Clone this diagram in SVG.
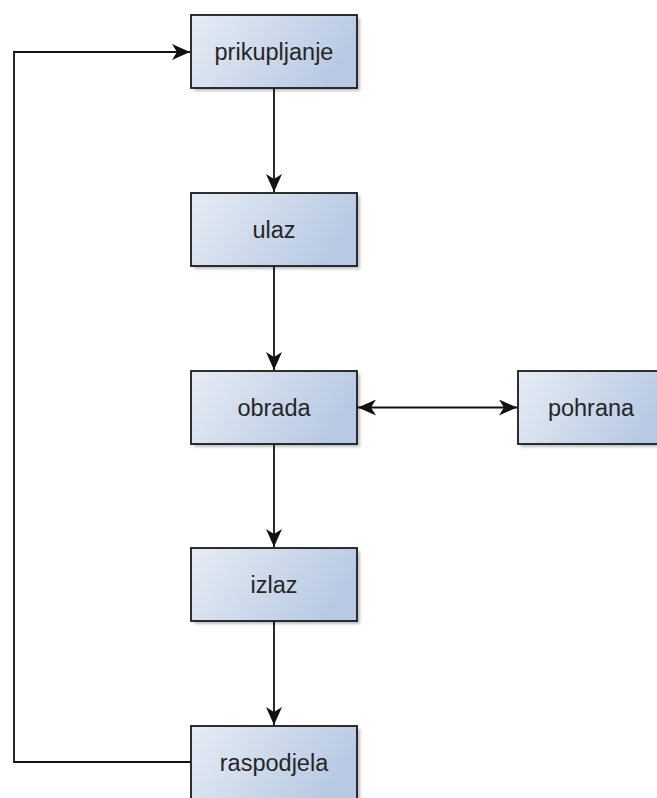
<svg xmlns="http://www.w3.org/2000/svg" width="657" height="798" viewBox="0 0 657 798">
<style>
.box{fill:url(#g);stroke:#1a1a1a;stroke-width:1.8}
.sh{fill:#000;opacity:0.25;filter:url(#blur)}
.lbl{font-family:"Liberation Sans",Arial,sans-serif;font-size:23.5px;fill:#262626;text-anchor:middle;dominant-baseline:central}
.edge{fill:none;stroke:#111;stroke-width:1.8}
</style>
<defs>
<linearGradient id="g" x1="0" y1="0" x2="1" y2="0.3">
<stop offset="0" stop-color="#e6ecf5"/>
<stop offset="1" stop-color="#b8cae3"/>
</linearGradient>
<filter id="blur" x="-10%" y="-10%" width="120%" height="130%"><feGaussianBlur stdDeviation="1.5"/></filter>
<marker id="arr" viewBox="0 0 18 16" refX="18" refY="8" markerWidth="18" markerHeight="16" markerUnits="userSpaceOnUse" orient="auto-start-reverse">
<path d="M0,0 L18,8 L0,16 L5,8 Z" fill="#111"/>
</marker>
</defs>
<g id="connectors">
<path class="edge" d="M274,88 V192" marker-end="url(#arr)"/>
<path class="edge" d="M274,266 V370" marker-end="url(#arr)"/>
<path class="edge" d="M274,444 V547" marker-end="url(#arr)"/>
<path class="edge" d="M274,622 V725" marker-end="url(#arr)"/>
<path class="edge" d="M358,407.5 H517" marker-start="url(#arr)" marker-end="url(#arr)"/>
<path class="edge" d="M191,762 H14 V52 H190" marker-end="url(#arr)"/>
</g>
<g id="prikupljanje">
<rect class="sh" x="194" y="18" width="166" height="73"/>
<rect class="box" x="191" y="15" width="166" height="73"/>
<text class="lbl" x="274" y="52">prikupljanje</text>
</g>
<g id="ulaz">
<rect class="sh" x="194" y="196" width="166" height="73"/>
<rect class="box" x="191" y="193" width="166" height="73"/>
<text class="lbl" x="274" y="230">ulaz</text>
</g>
<g id="obrada">
<rect class="sh" x="194" y="374" width="166" height="73"/>
<rect class="box" x="191" y="371" width="166" height="73"/>
<text class="lbl" x="274" y="408">obrada</text>
</g>
<g id="pohrana">
<rect class="sh" x="521" y="374" width="148" height="73"/>
<rect class="box" x="518" y="371" width="148" height="73"/>
<text class="lbl" x="591" y="408">pohrana</text>
</g>
<g id="izlaz">
<rect class="sh" x="194" y="551" width="166" height="73"/>
<rect class="box" x="191" y="548" width="166" height="73"/>
<text class="lbl" x="274" y="585">izlaz</text>
</g>
<g id="raspodjela">
<rect class="sh" x="194" y="729" width="166" height="73"/>
<rect class="box" x="191" y="726" width="166" height="73"/>
<text class="lbl" x="274" y="763">raspodjela</text>
</g>
</svg>
